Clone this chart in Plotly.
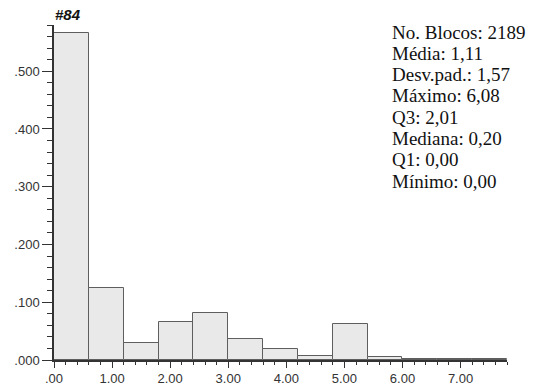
import plotly.graph_objects as go

# Histogram of block values (relative frequency per bin of width 0.6)
bin_edges = [0.0, 0.6, 1.2, 1.8, 2.4, 3.0, 3.6, 4.2, 4.8, 5.4, 6.0, 6.6, 7.2, 7.8]
frequencies = [0.567, 0.125, 0.030, 0.066, 0.081, 0.036, 0.019, 0.007, 0.062, 0.005, 0.002, 0.001, 0.001]

x_tick_values = [0, 1, 2, 3, 4, 5, 6, 7]
x_tick_labels = [".00", "1.00", "2.00", "3.00", "4.00", "5.00", "6.00", "7.00"]
y_tick_values = [0.0, 0.1, 0.2, 0.3, 0.4, 0.5]
y_tick_labels = [".000", ".100", ".200", ".300", ".400", ".500"]

stats_lines = [
    "No. Blocos: 2189",
    "Média: 1,11",
    "Desv.pad.: 1,57",
    "Máximo: 6,08",
    "Q3: 2,01",
    "Mediana: 0,20",
    "Q1: 0,00",
    "Mínimo: 0,00",
]
title_text = "#84"

centers = [(a + b) / 2 for a, b in zip(bin_edges[:-1], bin_edges[1:])]
widths = [b - a for a, b in zip(bin_edges[:-1], bin_edges[1:])]

fig = go.Figure()
fig.add_trace(go.Bar(
    x=centers,
    y=frequencies,
    width=widths,
    marker=dict(color="#e9e9e9", line=dict(color="#5e5e5e", width=1)),
    hoverinfo="skip",
))

W, H = 533, 389
ml, mr, mt, mb = 54, 26, 25, 29
pw, ph = W - ml - mr, H - mt - mb

SANS = "Liberation Sans"
SERIF = "Liberation Serif"
axis_font = dict(family=SANS, size=13, color="#333333")

fig.update_layout(
    width=W, height=H,
    margin=dict(l=ml, r=mr, t=mt, b=mb, pad=0, autoexpand=False),
    paper_bgcolor="white", plot_bgcolor="white",
    showlegend=False,
    bargap=0,
    xaxis=dict(
        range=[bin_edges[0], bin_edges[-1]],
        tickvals=x_tick_values, ticktext=x_tick_labels,
        ticks="outside", ticklen=6, tickwidth=1, tickcolor="#333333",
        minor=dict(dtick=0.2, tick0=0, ticks="outside", ticklen=3, tickwidth=1, tickcolor="#333333"),
        showline=True, linecolor="#333333", linewidth=1.5,
        showgrid=False, zeroline=False,
        tickfont=axis_font,
        automargin=False,
    ),
    yaxis=dict(
        range=[0, 0.58],
        tickvals=y_tick_values, ticktext=y_tick_labels,
        ticks="outside", ticklen=10, tickwidth=1, tickcolor="#333333",
        minor=dict(dtick=0.02, tick0=0, ticks="outside", ticklen=5, tickwidth=1, tickcolor="#333333"),
        showline=True, linecolor="#333333", linewidth=1.5,
        showgrid=False, zeroline=False,
        tickfont=axis_font,
        automargin=False,
    ),
)

# Title above the y axis
fig.add_annotation(
    text="<b><i>" + title_text + "</i></b>",
    xref="paper", yref="paper", x=0, y=1,
    xanchor="left", yanchor="bottom", yshift=0, xshift=-1,
    showarrow=False,
    font=dict(family=SANS, size=15, color="#111111"),
)

# Summary statistics block, one line per annotation
first_line_y = 32
line_step = 21.3
for i, line in enumerate(stats_lines):
    ypix = first_line_y + i * line_step
    fig.add_annotation(
        text=line,
        xref="paper", yref="paper",
        x=(390 - ml) / pw, y=(H - mb - ypix) / ph,
        xanchor="left", yanchor="middle",
        showarrow=False,
        font=dict(family=SERIF, size=19, color="#111111"),
    )

fig.write_html("out.html")
